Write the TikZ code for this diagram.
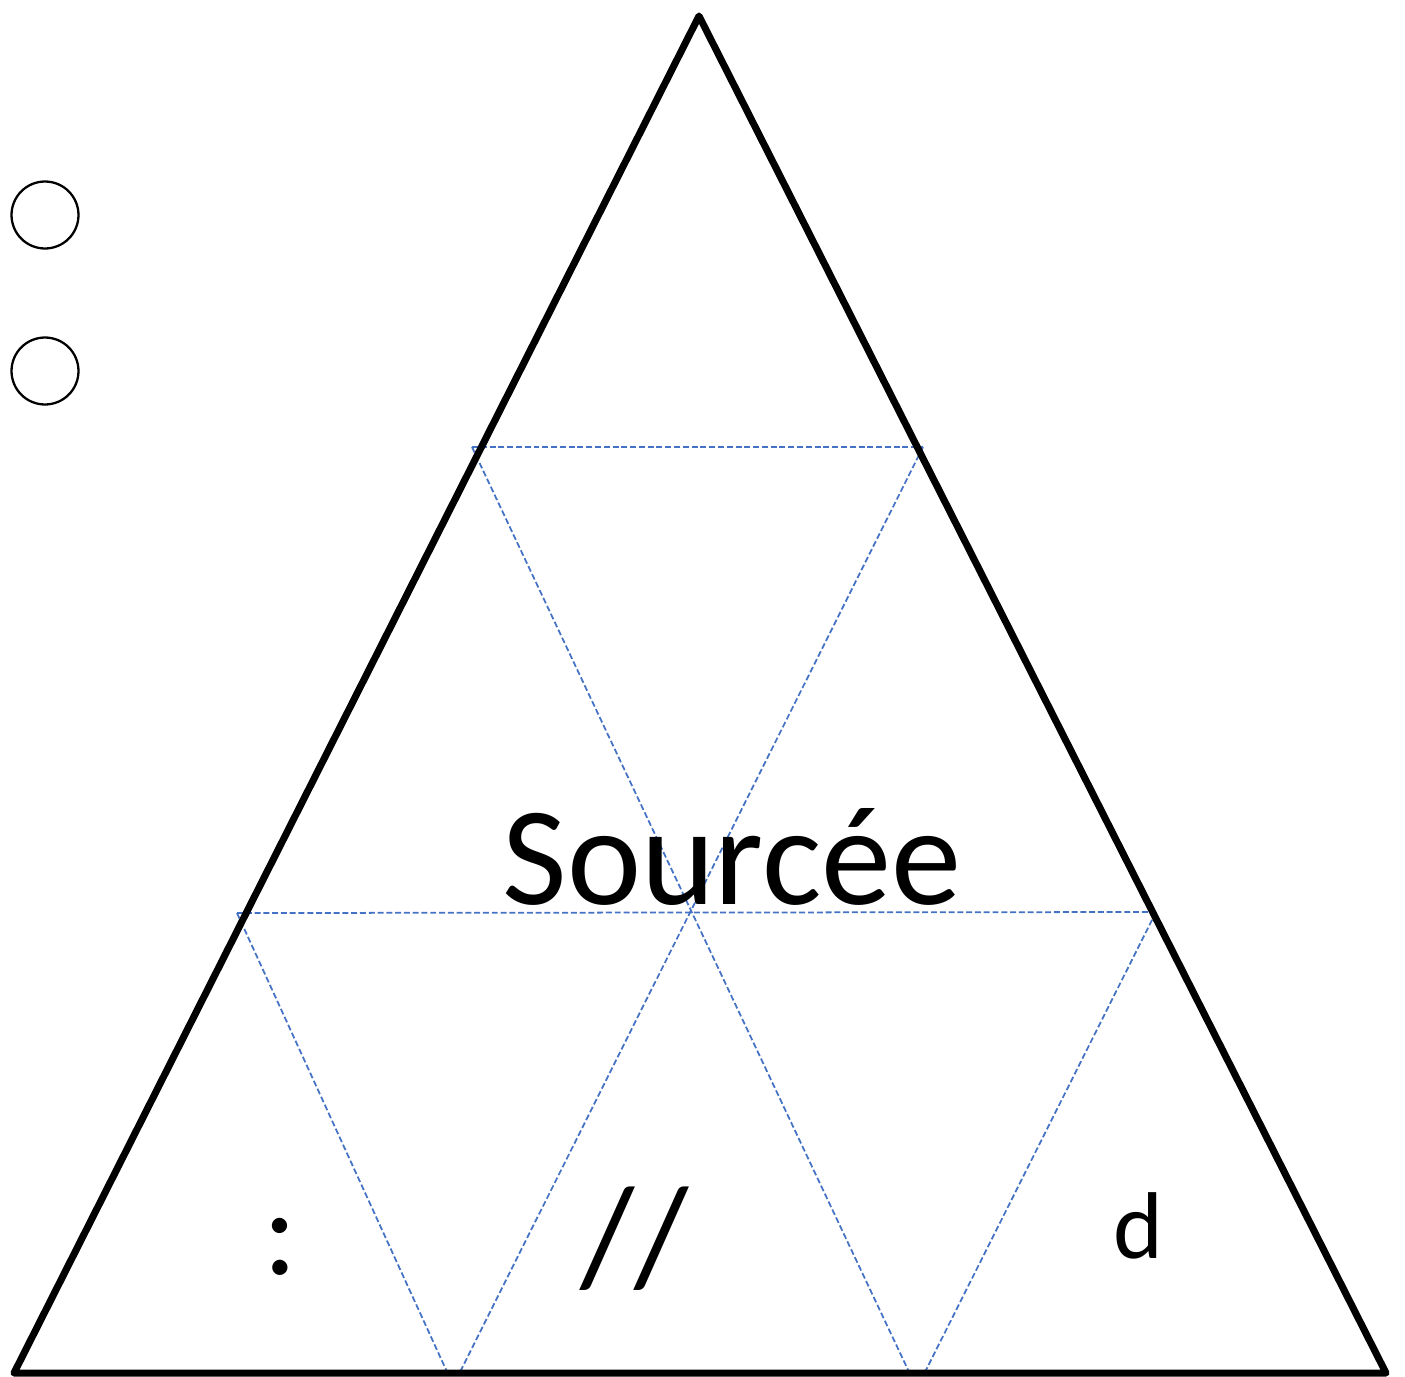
\documentclass[tikz,border=0pt]{standalone}
\usepackage{fontspec}
\setmainfont{Carlito}
\definecolor{guideblue}{HTML}{4472C4}

\begin{document}
\begin{tikzpicture}[
  x=0.02cm, y=-0.02cm,
  outline/.style={draw=black, line width=4pt, line join=round},
  guide/.style={draw=guideblue, line width=1pt, dash pattern=on 3.4pt off 1.6pt},
  hole/.style={circle, draw, line width=1.3pt, minimum size=1.34cm, inner sep=0pt},
  glyph/.style={inner sep=0pt, anchor=base}
]
\useasboundingbox (0,0) rectangle (1405,1376);

\coordinate (apex) at (699,16);
\coordinate (bl) at (14,1373);
\coordinate (br) at (1386,1373);

\coordinate (tl) at (472,447);
\coordinate (tr) at (923,447);
\coordinate (ml) at (237,913);
\coordinate (mr) at (1156,912);
\coordinate (b1) at (448,1374);
\coordinate (b2) at (459,1374);
\coordinate (b3) at (910,1374);
\coordinate (b4) at (924,1374);

\node[hole] (hole1) at (45,215) {};
\node[hole] (hole2) at (45,371) {};

% GUIDE LINES
\draw[guide] (tl) -- (tr);
\draw[guide] (ml) -- (mr);
\draw[guide] (tl) -- (b3);
\draw[guide] (tr) -- (b2);
\draw[guide] (ml) -- (b1);
\draw[guide] (mr) -- (b4);

\draw[outline] (apex) -- (bl) -- (br) -- cycle;

\node[glyph, font=\fontsize{80}{96}\selectfont] (title) at (732,904) {Sourcée};
\node[glyph, font=\fontsize{72}{86}\selectfont] (colon) at (280,1274) {:};
\node[glyph, font=\fontsize{80}{96}\selectfont] (slashes) at (635,1284) {//};
\node[glyph, font=\fontsize{54}{65}\selectfont] (dee) at (1138,1258) {d};

\end{tikzpicture}
\end{document}
